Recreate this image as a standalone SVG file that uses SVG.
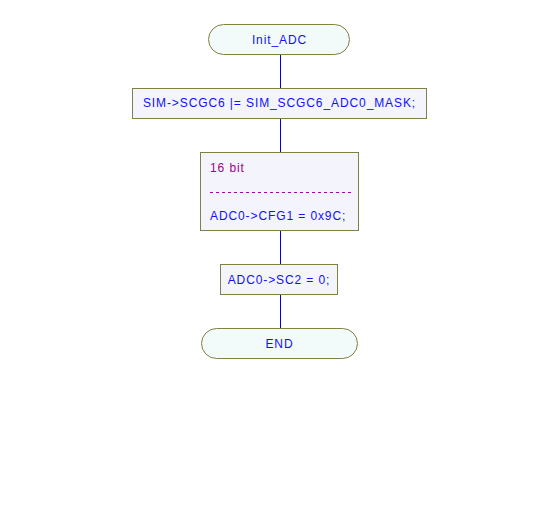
<svg xmlns="http://www.w3.org/2000/svg" width="560" height="528" viewBox="0 0 560 528">
<style>
.box{fill:#f4f4fc;stroke:#808040;stroke-width:1}
.term{fill:#f2fafa;stroke:#808040;stroke-width:1}
.t{font-family:"Liberation Sans",Arial,sans-serif;font-size:12px;fill:#1010ff;letter-spacing:0.9px}
.c{text-anchor:middle}
.cm{fill:#a0008c}
.ln{stroke:#0000e0;stroke-width:1;fill:none}
</style>
<rect width="560" height="528" fill="#ffffff"/>
<g id="connectors">
<line class="ln" x1="280.5" y1="55" x2="280.5" y2="88"/>
<line class="ln" x1="280.5" y1="119" x2="280.5" y2="152"/>
<line class="ln" x1="280.5" y1="231" x2="280.5" y2="264"/>
<line class="ln" x1="280.5" y1="295" x2="280.5" y2="328"/>
</g>
<g id="init">
<rect class="term" x="208.5" y="24.5" width="141" height="30" rx="15"/>
<text class="t c" x="279.5" y="44">Init_ADC</text>
</g>
<g id="simscgc6">
<rect class="box" x="132.5" y="88.5" width="294" height="30"/>
<text class="t c" x="279.5" y="107">SIM-&gt;SCGC6 |= SIM_SCGC6_ADC0_MASK;</text>
</g>
<g id="cfg1">
<rect class="box" x="200.5" y="152.5" width="158" height="78"/>
<text class="t cm" x="210" y="172">16 bit</text>
<line x1="210" y1="192.5" x2="352" y2="192.5" stroke="#b000b0" stroke-dasharray="3,3"/>
<text class="t" x="210" y="220">ADC0-&gt;CFG1 = 0x9C;</text>
</g>
<g id="sc2">
<rect class="box" x="220.5" y="264.5" width="117" height="30"/>
<text class="t c" x="279" y="284">ADC0-&gt;SC2 = 0;</text>
</g>
<g id="end">
<rect class="term" x="201.5" y="328.5" width="156" height="30" rx="15"/>
<text class="t c" x="279.5" y="348">END</text>
</g>
</svg>
